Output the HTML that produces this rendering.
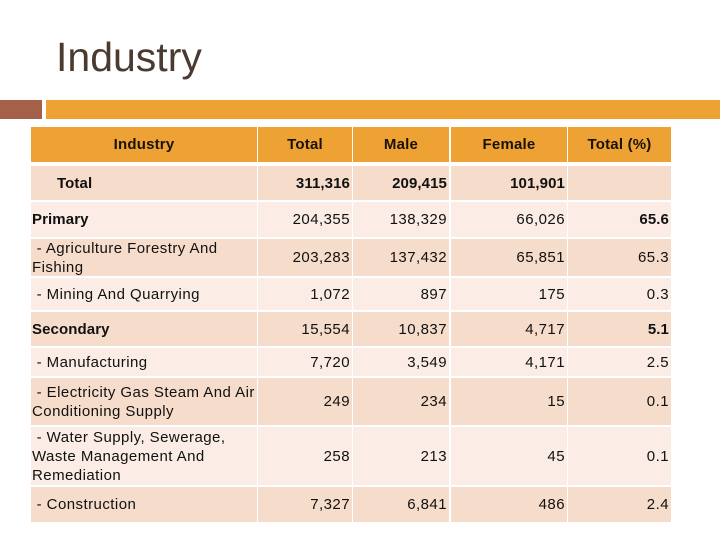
<!DOCTYPE html>
<html><head><meta charset="utf-8">
<style>
body{margin:0;width:720px;height:540px;background:#fff;position:relative;overflow:hidden;font-family:"Liberation Sans",Arial,sans-serif;}
.c{position:absolute;box-sizing:border-box;font-size:15px;color:#111;display:flex;align-items:center;line-height:19px;letter-spacing:0.45px;}
.num{justify-content:flex-end;padding-right:2px;}
.lab{padding-left:1px;}
.hd{background:#eea234;justify-content:center;font-weight:bold;color:#1a1208;font-size:15px;letter-spacing:0.2px;}
</style></head><body>
<div style="position:absolute;left:56px;top:34px;font-size:41px;color:#4a3a30;">Industry</div>
<div style="position:absolute;left:0;top:100px;width:42px;height:19px;background:#a5604a;"></div>
<div style="position:absolute;left:46px;top:100px;width:674px;height:19px;background:#eea234;"></div>
<div id="tbl"></div>
<script>
const colX=[31,258,353,451,568];
const colW=[226,94,96,116,103];
const headers=["Industry","Total","Male","Female","Total (%)"];
const rowY=[166,202,239,278,312,348,378,427,487];
const rowH=[34,35,37,32,34,28,47,58,35];
const labels=["Total","Primary","\u00a0- Agriculture Forestry And Fishing","\u00a0- Mining And Quarrying","Secondary","\u00a0- Manufacturing","\u00a0- Electricity Gas Steam And Air Conditioning Supply","\u00a0- Water Supply, Sewerage, Waste Management And Remediation","\u00a0- Construction"];
const totals=["311,316","204,355","203,283","1,072","15,554","7,720","249","258","7,327"];
const males=["209,415","138,329","137,432","897","10,837","3,549","234","213","6,841"];
const females=["101,901","66,026","65,851","175","4,717","4,171","15","45","486"];
const pcts=["","65.6","65.3","0.3","5.1","2.5","0.1","0.1","2.4"];
const tbl=document.getElementById('tbl');
for(let i=0;i<5;i++){
  const d=document.createElement('div');
  d.className='c hd';
  d.style.left=colX[i]+'px';d.style.top='127px';d.style.width=colW[i]+'px';d.style.height='35px';
  d.textContent=headers[i];
  
  
  tbl.appendChild(d);
}
const cols=[labels,totals,males,females,pcts];
for(let r=0;r<labels.length;r++){
  const bg=(r%2===0)?'#f6dccb':'#fbede6';
  for(let c=0;c<5;c++){
    const d=document.createElement('div');
    d.className='c '+(c===0?'lab':'num');
    d.style.left=colX[c]+'px';d.style.top=rowY[r]+'px';d.style.width=colW[c]+'px';d.style.height=rowH[r]+'px';
    d.style.background=bg;
    let b=(r===0);
    if(c===0&&(r===1||r===4)) b=true;
    if(c===4&&(r===1||r===4)) b=true;
    if(b){d.style.fontWeight='bold';d.style.letterSpacing='0.1px';}
    if(r===0&&c===0) d.style.paddingLeft='26px';
    d.textContent=cols[c][r];
    
    
    tbl.appendChild(d);
  }
}
</script>
</body></html>
